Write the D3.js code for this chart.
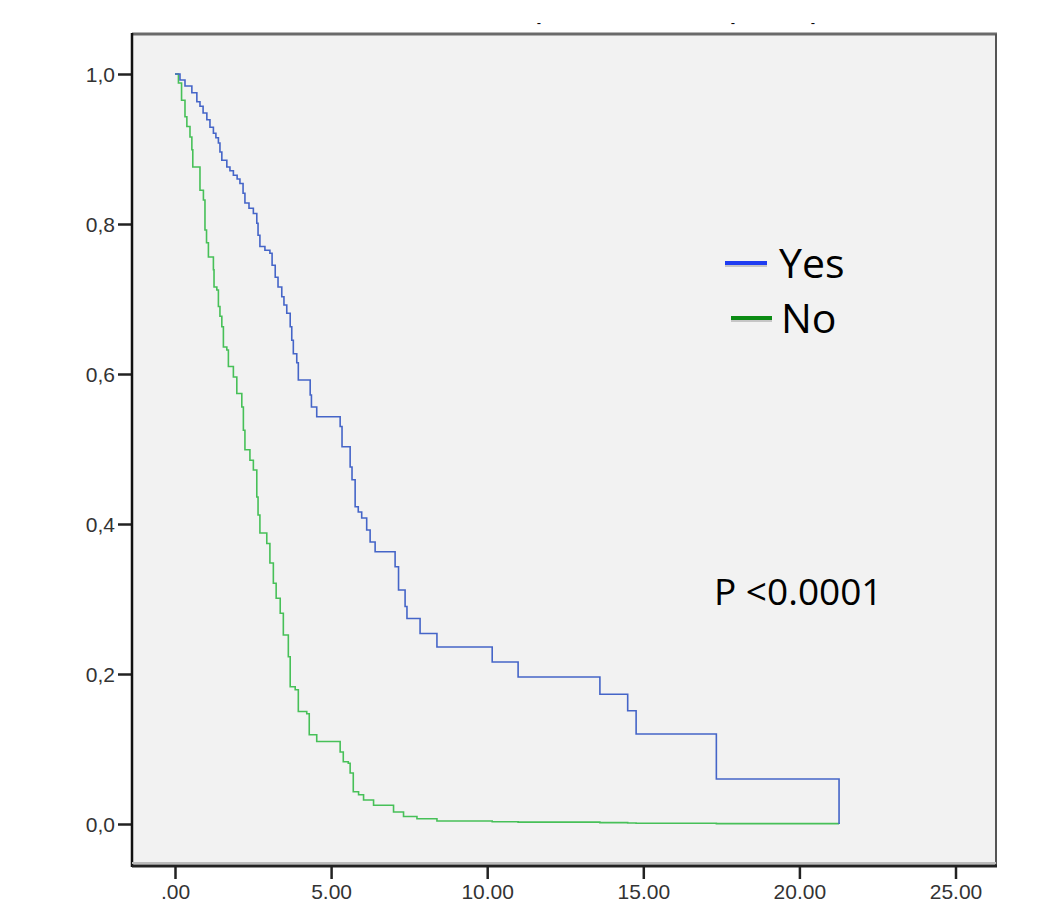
<!DOCTYPE html>
<html>
<head>
<meta charset="utf-8">
<script src="https://cdn.jsdelivr.net/npm/d3@7"></script>
<style>
  body { margin: 0; background: #fff; }
  svg { display: block; }
  .axis text { font-family: "Liberation Sans", Arial, sans-serif; fill: #333; }
  .axis path, .axis line { stroke: #222; }
</style>
</head>
<body>
<div id="chart"></div>
<script>
/* Kaplan-Meier steps: time of drop -> survival after it */
var xTicks = [0, 5, 10, 15, 20, 25];
var yTicks = [0, 0.2, 0.4, 0.6, 0.8, 1.0];

var yesTimes = [0, 0.16, 0.32, 0.54, 0.70, 0.80, 0.90, 1.02, 1.12, 1.23, 1.31, 1.39, 1.44, 1.50,
  1.66, 1.76, 1.87, 1.99, 2.08, 2.18, 2.24, 2.37, 2.51, 2.62, 2.66, 2.72, 2.88, 3.04, 3.11,
  3.21, 3.30, 3.42, 3.49, 3.58, 3.69, 3.74, 3.79, 3.90, 3.95, 4.33, 4.37, 4.54, 5.29, 5.35,
  5.61, 5.67, 5.77, 5.87, 5.98, 6.14, 6.25, 6.41, 7.05, 7.16, 7.37, 7.43, 7.85, 8.39, 10.16,
  10.99, 13.61, 14.50, 14.77, 17.34, 21.27];
var yesSurv = [1.0, 0.992, 0.984, 0.975, 0.963, 0.957, 0.948, 0.939, 0.929, 0.921, 0.915, 0.908,
  0.896, 0.885, 0.876, 0.871, 0.865, 0.860, 0.854, 0.841, 0.828, 0.821, 0.814, 0.801, 0.785,
  0.770, 0.765, 0.761, 0.745, 0.729, 0.716, 0.703, 0.692, 0.681, 0.663, 0.645, 0.627, 0.615,
  0.592, 0.572, 0.556, 0.543, 0.530, 0.503, 0.476, 0.459, 0.423, 0.416, 0.408, 0.392, 0.376,
  0.363, 0.343, 0.312, 0.290, 0.274, 0.254, 0.236, 0.216, 0.196, 0.173, 0.151, 0.120, 0.060, 0.0];

var noTimes = [0, 0.11, 0.21, 0.32, 0.38, 0.48, 0.54, 0.57, 0.80, 0.91, 0.96, 1.01, 1.07, 1.23,
  1.25, 1.34, 1.39, 1.44, 1.50, 1.55, 1.66, 1.71, 1.87, 1.98, 2.14, 2.19, 2.24, 2.40, 2.51,
  2.62, 2.66, 2.72, 2.94, 3.04, 3.15, 3.24, 3.37, 3.47, 3.63, 3.69, 3.85, 3.95, 4.22, 4.30,
  4.54, 5.29, 5.39, 5.55, 5.61, 5.71, 5.88, 6.04, 6.36, 7.00, 7.32, 7.75, 8.39, 10.16, 10.99,
  13.61, 14.50, 14.77, 17.34, 21.27];
var noSurv = [1.0, 0.988, 0.965, 0.943, 0.930, 0.916, 0.899, 0.876, 0.845, 0.832, 0.792, 0.775,
  0.756, 0.739, 0.716, 0.712, 0.690, 0.677, 0.663, 0.636, 0.632, 0.610, 0.596, 0.574, 0.556,
  0.525, 0.499, 0.485, 0.472, 0.436, 0.412, 0.388, 0.374, 0.348, 0.321, 0.301, 0.281, 0.252,
  0.223, 0.183, 0.179, 0.150, 0.147, 0.119, 0.110, 0.096, 0.083, 0.081, 0.068, 0.043, 0.039,
  0.032, 0.025, 0.016, 0.010, 0.007, 0.004, 0.003, 0.0025, 0.0018, 0.0014, 0.001, 0.0005, 0.0];

var seriesNames = ["Yes", "No"];
var pText = "P <0.0001";

var W = 1045, H = 904;
var frame = { left: 132, top: 34, right: 996, bottom: 866 };

var svg = d3.select("#chart").append("svg")
    .attr("width", W)
    .attr("height", H);

var x = d3.scaleLinear().domain([0, 25]).range([175, 955.5]);
var y = d3.scaleLinear().domain([0, 1]).range([824, 74]);

// plot panel
svg.append("rect")
    .attr("x", frame.left).attr("y", frame.top)
    .attr("width", frame.right - frame.left)
    .attr("height", frame.bottom - frame.top)
    .attr("fill", "#f2f2f2");

// top + right frame (grey), drawn first so the black axes sit on top
svg.append("line")
    .attr("x1", frame.left).attr("x2", frame.right + 1)
    .attr("y1", frame.top).attr("y2", frame.top)
    .attr("stroke", "#6a6a6a").attr("stroke-width", 3);
svg.append("line")
    .attr("x1", frame.right).attr("x2", frame.right)
    .attr("y1", frame.top).attr("y2", frame.bottom)
    .attr("stroke", "#555").attr("stroke-width", 2);

// residual marks above the panel
[539, 733, 813].forEach(function (px) {
  svg.append("text")
      .attr("x", px).attr("y", 27)
      .attr("text-anchor", "middle")
      .style("font-family", "Liberation Sans, Arial, sans-serif")
      .style("font-size", "13px")
      .text("-");
});

// axes
var yAxis = d3.axisLeft(y)
    .tickValues(yTicks)
    .tickSize(14)
    .tickPadding(3)
    .tickFormat(function (d) { return d3.format(".1f")(d).replace(".", ","); });

var xAxis = d3.axisBottom(x)
    .tickValues(xTicks)
    .tickSize(13)
    .tickPadding(5)
    .tickFormat(function (d) { return d === 0 ? ".00" : d3.format(".2f")(d); });

var gy = svg.append("g")
    .attr("class", "y axis")
    .attr("transform", "translate(" + frame.left + ",0)")
    .call(yAxis);
gy.select(".domain").remove();
gy.selectAll("line").attr("stroke-width", 2.5);
gy.selectAll("text").style("font-size", "21px").attr("dy", "0.36em");

var gx = svg.append("g")
    .attr("class", "x axis")
    .attr("transform", "translate(0," + frame.bottom + ")")
    .call(xAxis);
gx.select(".domain").remove();
gx.selectAll("line").attr("stroke-width", 2.5);
gx.selectAll("text").style("font-size", "21px");

svg.append("line")
    .attr("x1", frame.left).attr("x2", frame.left)
    .attr("y1", frame.top - 1).attr("y2", frame.bottom + 1)
    .attr("stroke", "#111").attr("stroke-width", 2.5);
svg.append("line")
    .attr("x1", frame.left).attr("x2", frame.right + 1)
    .attr("y1", frame.bottom).attr("y2", frame.bottom)
    .attr("stroke", "#222").attr("stroke-width", 3);
svg.append("line")
    .attr("x1", frame.left).attr("x2", frame.right)
    .attr("y1", frame.bottom - 3).attr("y2", frame.bottom - 3)
    .attr("stroke", "#bbb").attr("stroke-width", 2);

// survival curves
var step = d3.line()
    .x(function (d) { return x(d[0]); })
    .y(function (d) { return y(d[1]); })
    .curve(d3.curveStepAfter);

var noData = d3.zip(noTimes, noSurv);
var yesData = d3.zip(yesTimes, yesSurv);

svg.append("path")
    .attr("d", step(noData))
    .attr("fill", "none")
    .attr("stroke", "#47c058")
    .attr("stroke-width", 1.6);

svg.append("path")
    .attr("d", step(yesData))
    .attr("fill", "none")
    .attr("stroke", "#4565c8")
    .attr("stroke-width", 1.6);

// legend (swatch = rect with a soft shadow rect under it)
var legendItems = [
  { name: seriesNames[0], color: "#1f3df2", x1: 725, x2: 767, ly: 263, tx: 779, ty: 278 },
  { name: seriesNames[1], color: "#0c8c14", x1: 731, x2: 772, ly: 318, tx: 781, ty: 333 }
];
legendItems.forEach(function (d) {
  svg.append("rect")
      .attr("x", d.x1).attr("y", d.ly)
      .attr("width", d.x2 - d.x1).attr("height", 4)
      .attr("fill", "#000").attr("opacity", 0.18);
  svg.append("rect")
      .attr("x", d.x1).attr("y", d.ly - 2)
      .attr("width", d.x2 - d.x1).attr("height", 4)
      .attr("fill", d.color);
  svg.append("text")
      .attr("x", d.tx).attr("y", d.ty)
      .style("font-family", "Open Sans, sans-serif")
      .style("font-size", "41px")
      .style("fill", "#000")
      .text(d.name);
});

svg.append("text")
    .attr("x", 714).attr("y", 605)
    .style("font-family", "Open Sans, sans-serif")
    .style("font-size", "37px")
    .style("fill", "#000")
    .text(pText);
</script>
</body>
</html>
